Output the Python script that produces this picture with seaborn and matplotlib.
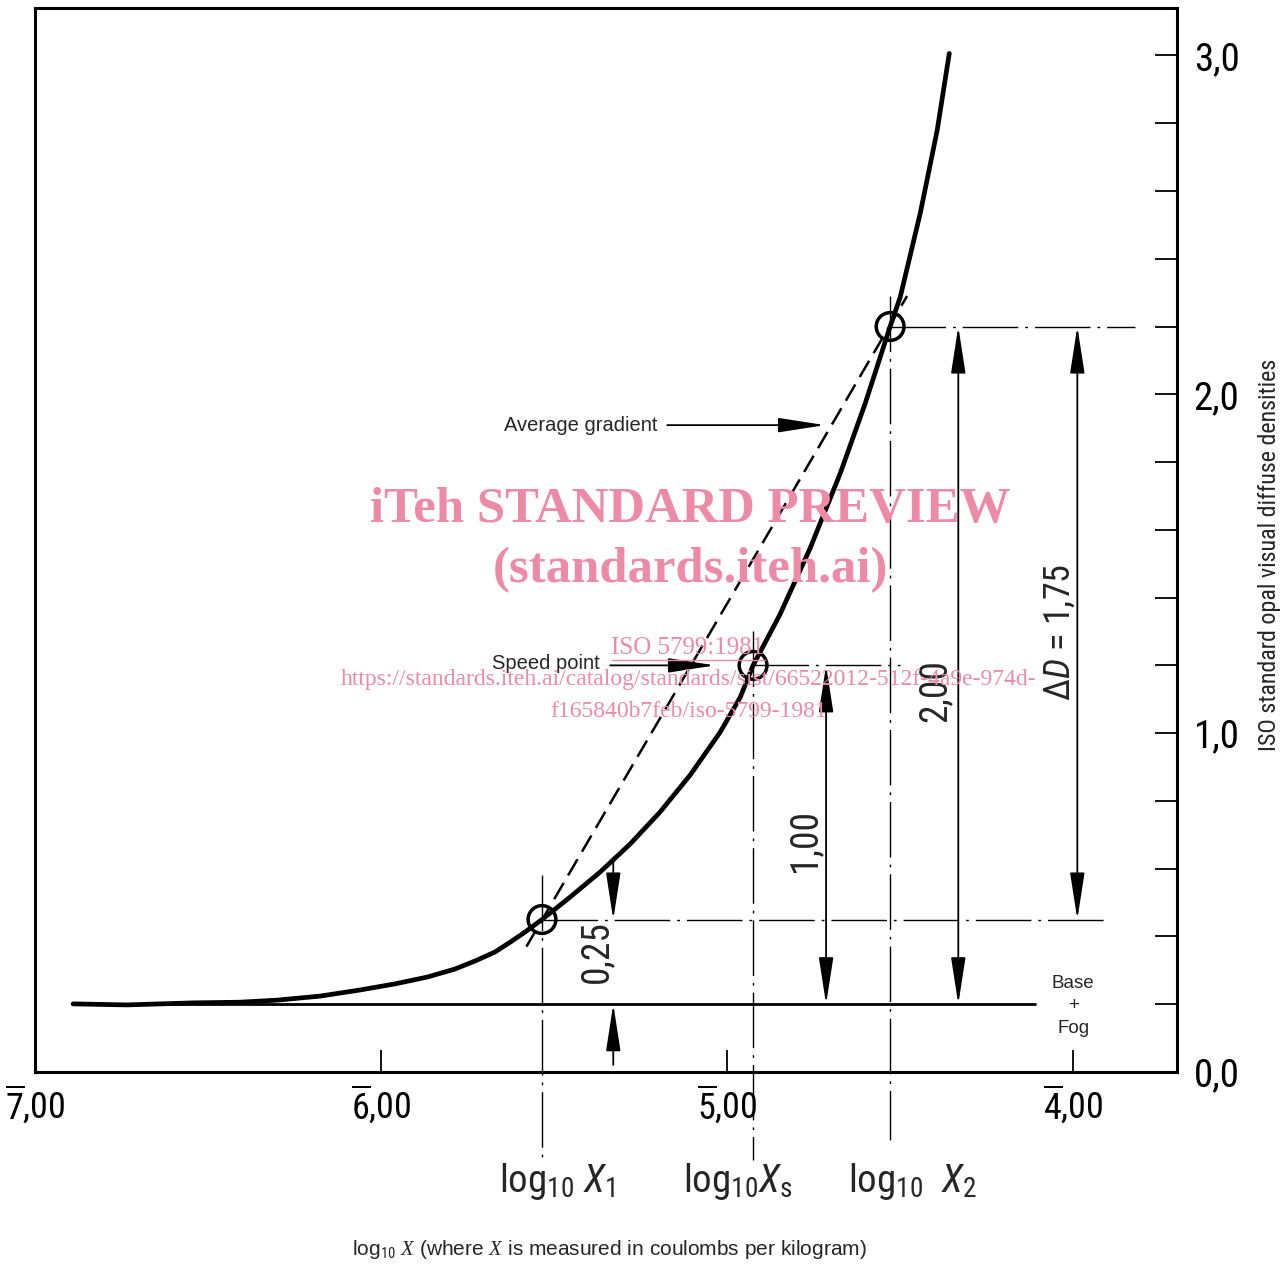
import matplotlib
matplotlib.use('Agg')
import matplotlib.pyplot as plt
from matplotlib import font_manager
import seaborn as sns

# characteristic curve: log10 X  vs  density
curve_x = [-6.890, -6.734, -6.543, -6.408, -6.301, -6.176, -6.061, -5.960, -5.867, -5.786,
           -5.723, -5.671, -5.627, -5.584, -5.535, -5.454, -5.367, -5.280, -5.194, -5.107,
           -5.020, -4.962, -4.925, -4.847, -4.760, -4.673, -4.601, -4.529, -4.500, -4.442,
           -4.393, -4.358]
curve_y = [0.201, 0.198, 0.204, 0.206, 0.212, 0.224, 0.242, 0.260, 0.280, 0.304,
           0.330, 0.354, 0.383, 0.413, 0.450, 0.516, 0.590, 0.673, 0.767, 0.876,
           1.003, 1.106, 1.200, 1.351, 1.546, 1.767, 1.973, 2.200, 2.286, 2.534,
           2.779, 3.006]

# the three marked points (X1, Xs, X2)
point_x = [-5.535, -4.925, -4.529]
point_y = [0.45, 1.20, 2.20]
point_labels = [r'log$_{10}$ $\mathsf{X}_{1}$', r'log$_{10}\mathsf{X}_{\mathrm{s}}$',
                r'log$_{10}$  $\mathsf{X}_{2}$']

# base + fog level and the average gradient line
base_fog = 0.20
base_x = [-6.890, -4.110]
grad_x = [-5.58, -4.48]
grad_y = [0.37, 2.29]

dim_labels = ['0,25', '1,00', '2,00', r'$\Delta\mathsf{D}$ = 1,75']

x_ticks = [-7, -6, -5, -4]
x_ticklabels = [r'$\overline{7}$,00', r'$\overline{6}$,00', r'$\overline{5}$,00', r'$\overline{4}$,00']
y_ticks = [0, 1, 2, 3]
y_ticklabels = ['0,0', '1,0', '2,0', '3,0']

# pick a narrow sans for the drawing lettering
have = {(f.name, f.stretch) for f in font_manager.fontManager.ttflist}
names = {n for n, _ in have}
narrow_family, narrow_stretch, shrink = 'DejaVu Sans', 'normal', 0.88
for cand in ['Liberation Sans Narrow', 'Roboto Condensed', 'DejaVu Sans Condensed',
             'Open Sans Condensed', 'Noto Sans Condensed']:
    if cand in names:
        narrow_family, narrow_stretch, shrink = cand, 'normal', 1.0
        break
else:
    if ('DejaVu Sans', 'condensed') in have:
        narrow_family, narrow_stretch, shrink = 'DejaVu Sans', 'condensed', 0.95

sns.set_theme(style='white')
plt.rcParams['font.family'] = [narrow_family, 'DejaVu Sans']
plt.rcParams['font.stretch'] = narrow_stretch
plt.rcParams['mathtext.fontset'] = 'custom'
plt.rcParams['mathtext.rm'] = f'{narrow_family}:stretch={narrow_stretch}'
plt.rcParams['mathtext.it'] = 'Liberation Serif:style=italic'
plt.rcParams['mathtext.sf'] = f'{narrow_family}:style=italic:stretch={narrow_stretch}'
plt.rcParams['mathtext.bf'] = f'{narrow_family}:weight=bold:stretch={narrow_stretch}'

fig = plt.figure(figsize=(12.88, 12.65), dpi=100)
ax = fig.add_axes([35 / 1288, 1 - 1072 / 1265, 1142 / 1288, 1064 / 1265])
ax.set_xlim(-7, -3.70)
ax.set_ylim(0, 3.14)

# main curve
sns.lineplot(x=curve_x, y=curve_y, ax=ax, color='black', linewidth=3.4,
             sort=False, estimator=None)

# average gradient (dashed)
ax.plot(grad_x, grad_y, color='black', lw=1.8, linestyle=(0, (7.5, 3.5)))

# base + fog
ax.plot(base_x, [base_fog, base_fog], color='black', lw=2.0)

# circles at the points
sns.scatterplot(x=point_x, y=point_y, ax=ax, marker='o', s=400, facecolor='none',
                edgecolor='black', linewidth=2.5, zorder=5)

dashdot = (0, (40, 5, 2, 5))
# vertical construction lines through the points
ax.plot([point_x[0], point_x[0]], [0.58, -0.254], color='black', lw=1.0, ls=dashdot, clip_on=False)
ax.plot([point_x[1], point_x[1]], [1.30, -0.26], color='black', lw=1.0, ls=dashdot, clip_on=False)
ax.plot([point_x[2], point_x[2]], [2.29, -0.20], color='black', lw=1.0, ls=dashdot, clip_on=False)
# horizontal construction lines
ax.plot([point_x[0], -3.908], [point_y[0], point_y[0]], color='black', lw=1.0, ls=dashdot)
ax.plot([point_x[1], -4.500], [point_y[1], point_y[1]], color='black', lw=1.0, ls=dashdot)
ax.plot([point_x[2], -3.821], [point_y[2], point_y[2]], color='black', lw=1.0, ls=dashdot)


def arrow(x0, y0, x1, y1, style):
    ax.annotate('', xy=(x1, y1), xytext=(x0, y0), annotation_clip=False,
                arrowprops=dict(arrowstyle=style + ',head_length=2.9,head_width=0.45',
                                color='black', lw=1.3, shrinkA=0, shrinkB=0,
                                mutation_scale=10))


# 0,25 dimension (arrows from outside)
arrow(-5.329, 0.630, -5.329, point_y[0], '-|>')
arrow(-5.329, 0.021, -5.329, base_fog, '-|>')
ax.text(-5.376, 0.355, dim_labels[0], rotation=90, ha='center', va='center', fontsize=27 * shrink)
# 1,00
arrow(-4.714, base_fog, -4.714, point_y[1], '<|-|>')
ax.text(-4.775, 0.684, dim_labels[1], rotation=90, ha='center', va='center', fontsize=27 * shrink)
# 2,00
arrow(-4.332, base_fog, -4.332, point_y[2], '<|-|>')
ax.text(-4.399, 1.127, dim_labels[2], rotation=90, ha='center', va='center', fontsize=27 * shrink)
# delta D
arrow(-3.988, point_y[0], -3.988, point_y[2], '<|-|>')
ax.text(-4.038, 1.298, dim_labels[3], rotation=90, ha='center', va='center', fontsize=26 * shrink)

# callouts
sans = ['Liberation Sans', 'DejaVu Sans']
arrow(-5.173, 1.909, -4.717, 1.909, '-|>')
ax.text(-5.202, 1.909, 'Average gradient', ha='right', va='center', fontsize=14.5,
        family=sans, stretch='normal')
arrow(-5.338, 1.20, -5.035, 1.20, '-|>')
ax.text(-5.367, 1.205, 'Speed point', ha='right', va='center', fontsize=14.5,
        family=sans, stretch='normal')
ax.text(-4.0, 0.195, 'Base\n+\nFog', ha='center', va='center', fontsize=13.5, linespacing=1.45,
        family=sans, stretch='normal')

# point labels under the axis
for px, lab in zip([-5.491, -4.968, -4.465], point_labels):
    ax.text(px, -0.324, lab, ha='center', va='center', fontsize=28 * shrink)

# axes styling
ax.set_xticks(x_ticks)
ax.set_xticklabels(x_ticklabels)
ax.yaxis.tick_right()
ax.set_yticks(y_ticks)
ax.set_yticklabels(y_ticklabels)
ax.set_yticks([v / 5 for v in range(16) if v % 5 != 0], minor=True)
ax.tick_params(axis='x', which='both', direction='in', length=16, width=1.3, pad=8,
               labelsize=26 * shrink, bottom=True, top=False, colors='black')
ax.tick_params(axis='y', which='both', direction='in', length=16, width=1.3, pad=12,
               labelsize=28 * shrink, right=True, left=False, labelright=True, labelleft=False,
               colors='black')
for s in ax.spines.values():
    s.set_visible(True)
    s.set_linewidth(2.2)
    s.set_color('black')
ax.set_xlabel('')
ax.set_ylabel('')

fig.text(0.473, 0.012, r'log$_{10}$ $\mathit{X}$ (where $\mathit{X}$ is measured in coulombs per kilogram)',
         ha='center', va='center', fontsize=15, family=sans, stretch='normal')
fig.text(0.986, 0.5613, 'ISO standard opal visual diffuse densities', rotation=90,
         ha='center', va='center', fontsize=17.3 if shrink == 1.0 else 16)

# watermark
pink = '#ec8aa8'
serif = ['Liberation Serif', 'DejaVu Serif']
fig.text(0.5357, 0.5968, 'iTeh STANDARD PREVIEW', ha='center', va='center', fontsize=36.5,
         fontweight='bold', color=pink, family=serif, stretch='normal', zorder=10)
fig.text(0.5357, 0.5494, '(standards.iteh.ai)', ha='center', va='center', fontsize=36.5,
         fontweight='bold', color=pink, family=serif, stretch='normal', zorder=10)
fig.text(0.5342, 0.4877, 'ISO 5799:1981', ha='center', va='center', fontsize=18,
         color=pink, family=serif, stretch='normal', zorder=10)
fig.add_artist(plt.Line2D([0.4752, 0.5939], [0.4783, 0.4783], color=pink, lw=1.0,
                          transform=fig.transFigure))
fig.text(0.5349, 0.4625, 'https://standards.iteh.ai/catalog/standards/sist/66522012-512f-4a9e-974d-',
         ha='center', va='center', fontsize=17, color=pink, family=serif, stretch='normal', zorder=10)
fig.text(0.5349, 0.4372, 'f165840b7feb/iso-5799-1981', ha='center', va='center', fontsize=17,
         color=pink, family=serif, stretch='normal', zorder=10)

fig.savefig('out.png', dpi=100)
